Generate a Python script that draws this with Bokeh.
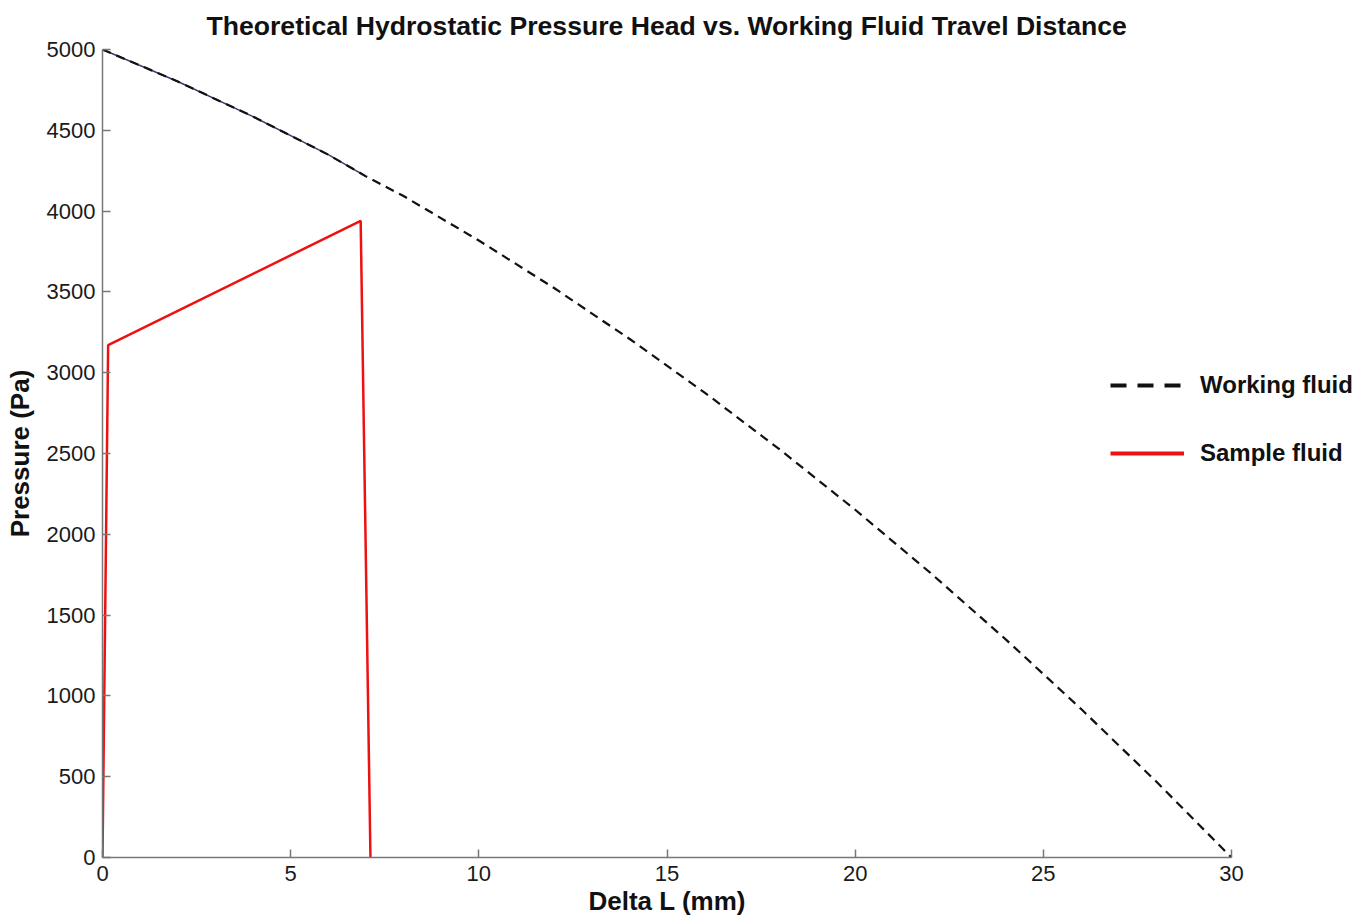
from bokeh.plotting import figure
from bokeh.models import Range1d, Legend, LegendItem, FixedTicker, Title
from bokeh.embed import file_html
from bokeh.resources import INLINE

# Working fluid: theoretical hydrostatic pressure head (Pa) vs delta L (mm)
work_x = [0, 2, 4, 6, 7, 8, 10, 12, 14, 16, 18, 20, 22, 24, 26, 28, 30]
work_y = [5000, 4802, 4585, 4349, 4215, 4093, 3818, 3524, 3210, 2877, 2524,
          2152, 1761, 1350, 920, 470, 0]

# Sample fluid
samp_x = [0, 0.15, 6.86, 7.12]
samp_y = [0, 3170, 3940, 0]

x_ticks = [0, 5, 10, 15, 20, 25, 30]
y_ticks = [0, 500, 1000, 1500, 2000, 2500, 3000, 3500, 4000, 4500, 5000]

FONT = "Liberation Sans"

# frame: data x 0..30 spans 1129 px; the frame is widened to the right so that
# the legend (which straddles the axis end) is not clipped
FRAME_W = 1250
X_END = 30 * FRAME_W / 1129

p = figure(frame_width=FRAME_W, frame_height=808,
           min_border_left=102, min_border_top=49, min_border_bottom=62, min_border_right=10,
           x_range=Range1d(0, X_END), y_range=Range1d(0, 5000),
           output_backend="svg", toolbar_location=None,
           title="Theoretical Hydrostatic Pressure Head vs. Working Fluid Travel Distance")

p.title.align = "left"
p.title.offset = 104
p.title.standoff = 14
p.title.vertical_align = "top"
p.title.text_font = FONT
p.title.text_font_size = "26.6px"
p.title.text_font_style = "bold"
p.title.text_color = "#111111"

p.grid.visible = False
p.outline_line_color = None
p.background_fill_color = "white"
p.border_fill_color = "white"

for ax in (p.xaxis[0], p.yaxis[0]):
    ax.axis_line_color = "#777777"
    ax.axis_line_width = 1.5
    ax.major_tick_line_color = "#777777"
    ax.major_tick_line_width = 1.5
    ax.major_tick_in = 8
    ax.major_tick_out = 0
    ax.minor_tick_line_color = None
    ax.major_label_text_font = FONT
    ax.major_label_text_font_size = "22px"
    ax.major_label_text_color = "#1a1a1a"
    ax.axis_label_text_font = FONT
    ax.axis_label_text_font_size = "26px"
    ax.axis_label_text_font_style = "bold"
    ax.axis_label_text_color = "#111111"

p.xaxis.ticker = FixedTicker(ticks=x_ticks)
p.yaxis.ticker = FixedTicker(ticks=y_ticks)
p.xaxis.bounds = (0, 30)
p.yaxis.axis_label = "Pressure (Pa)"
p.xaxis.major_label_standoff = 8
p.yaxis.major_label_standoff = 7
p.yaxis.axis_label_standoff = 9

# x-axis label as a title below, so it centres on the 0..30 axis, not the widened frame
xlabel = Title(text="Delta L (mm)", align="left", offset=486, standoff=1,
               text_font=FONT, text_font_size="26px", text_font_style="bold",
               text_color="#111111")
p.add_layout(xlabel, "below")

# solid underlay of the working-fluid curve over the sample-fluid extent
n_solid = sum(1 for v in work_x if v <= max(samp_x))
p.line(work_x[:n_solid], work_y[:n_solid], line_color="#3a3a66", line_width=1.5)
p.line(work_x, work_y, line_color="#111111", line_width=2.2, line_dash="9 6")
p.line(samp_x, samp_y, line_color="#ee1111", line_width=2.5)

# legend-only renderers (no visible data)
nan = float("nan")
lw = p.line([nan], [nan], line_color="#111111", line_width=4, line_dash="16 11")
ls = p.line([nan], [nan], line_color="#ee1111", line_width=4)

legend = Legend(items=[LegendItem(label="Working fluid", renderers=[lw]),
                       LegendItem(label="Sample fluid", renderers=[ls])],
                location=(1004, 385))
legend.background_fill_alpha = 0
legend.border_line_alpha = 0
legend.label_text_font = FONT
legend.label_text_font_size = "24px"
legend.label_text_font_style = "bold"
legend.label_text_color = "#111111"
legend.glyph_width = 74
legend.glyph_height = 30
legend.label_height = 30
legend.spacing = 38
legend.label_standoff = 16
legend.padding = 4
legend.margin = 0
p.add_layout(legend, "center")

open("out.html", "w").write(file_html(p, INLINE))
